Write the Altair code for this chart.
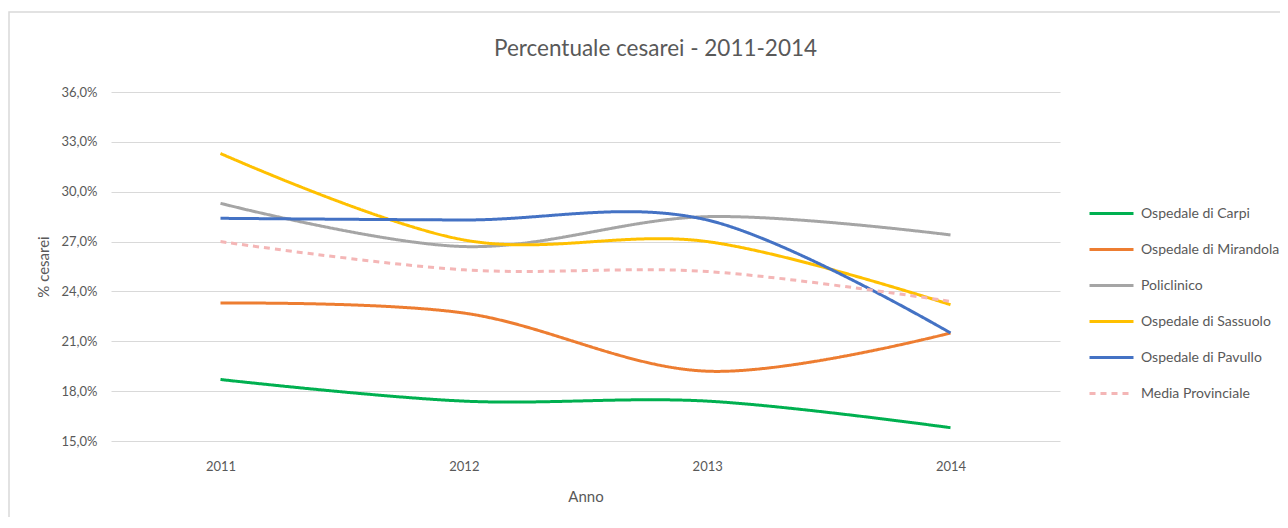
import altair as alt
import pandas as pd

anni = ["2011", "2012", "2013", "2014"]
serie = ["Ospedale di Carpi", "Ospedale di Mirandola", "Policlinico",
         "Ospedale di Sassuolo", "Ospedale di Pavullo", "Media Provinciale"]
carpi = [18.7, 17.4, 17.4, 15.8]
mirandola = [23.3, 22.7, 19.2, 21.5]
policlinico = [29.3, 26.7, 28.5, 27.4]
sassuolo = [32.3, 27.1, 27.0, 23.2]
pavullo = [28.4, 28.3, 28.3, 21.5]
media = [27.0, 25.3, 25.2, 23.4]
colori = ["#00B050", "#ED7D31", "#A5A5A5", "#FFC000", "#4472C4", "#F4B6B6"]
tick_y = [15, 18, 21, 24, 27, 30, 33, 36]

valori = [carpi, mirandola, policlinico, sassuolo, pavullo, media]
rows = []
for s, vals in zip(serie, valori):
    for a, v in zip(anni, vals):
        rows.append({"Serie": s, "Anno": a, "Valore": v})
df = pd.DataFrame(rows)

FONT = "Lato"
GREY = "#595959"
W, H = 949, 349
PL, PT, PR, PB = 103, 84, 220, 76

leg = dict(title=None, orient="none", legendX=977, legendY=98,
           symbolType="stroke", symbolSize=1936,
           symbolStrokeWidth=3, labelFontSize=14,
           labelColor=GREY, labelFont=FONT,
           rowPadding=5, labelOffset=6)

lines = alt.Chart(df).mark_line(interpolate="cardinal").encode(
    x=alt.X("Anno:O", sort=anni,
            scale=alt.Scale(type="point", padding=0.45),
            axis=alt.Axis(title="Anno", labelAngle=0, ticks=False, domain=False,
                          grid=False, labelPadding=19, titlePadding=16,
                          labelFontSize=13, titleFontSize=15,
                          labelColor=GREY, titleColor=GREY,
                          labelFont=FONT, titleFont=FONT, titleFontWeight="normal")),
    y=alt.Y("Valore:Q",
            scale=alt.Scale(domain=[15, 36], nice=False, zero=False),
            axis=alt.Axis(title="% cesarei", values=tick_y, ticks=False, domain=False,
                          labelExpr="replace(format(datum.value, '.1f'), '.', ',') + '%'",
                          gridColor="#D9D9D9", gridWidth=1,
                          labelPadding=14, titlePadding=10,
                          labelFontSize=13, titleFontSize=15,
                          labelColor=GREY, titleColor=GREY,
                          labelFont=FONT, titleFont=FONT, titleFontWeight="normal")),
    color=alt.Color("Serie:N", sort=serie,
                    scale=alt.Scale(domain=serie, range=colori),
                    legend=alt.Legend(**leg)),
    strokeDash=alt.StrokeDash("Serie:N", sort=serie,
                              scale=alt.Scale(domain=serie,
                                              range=[[1, 0], [1, 0], [1, 0], [1, 0], [1, 0], [6, 5]]),
                              legend=alt.Legend(**leg)),
    strokeWidth=alt.StrokeWidth("Serie:N", sort=serie,
                                scale=alt.Scale(domain=serie, range=[3, 3, 3, 3, 3, 2]),
                                legend=None),
)

frame = alt.Chart(pd.DataFrame({"k": [0]})).mark_rect(
    fill="white", fillOpacity=0, stroke="#D9D9D9", strokeWidth=1.5
).encode(
    x=alt.value(-PL + 1), x2=alt.value(W + PR + 20),
    y=alt.value(-PT + 4), y2=alt.value(H + PB + 10),
)

chart = alt.layer(frame, lines).properties(
    width=W, height=H,
    padding={"left": PL, "top": PT, "right": PR, "bottom": PB},
    autosize=alt.AutoSizeParams(type="none"),
    title=alt.TitleParams("Percentuale cesarei - 2011-2014", fontSize=22.5, font=FONT,
                          fontWeight="normal", color=GREY, anchor="middle", frame="group",
                          dx=70, offset=0, dy=49),
).configure_view(stroke=None)

chart.save("out.html", embed_options={"renderer": "svg", "actions": False})
